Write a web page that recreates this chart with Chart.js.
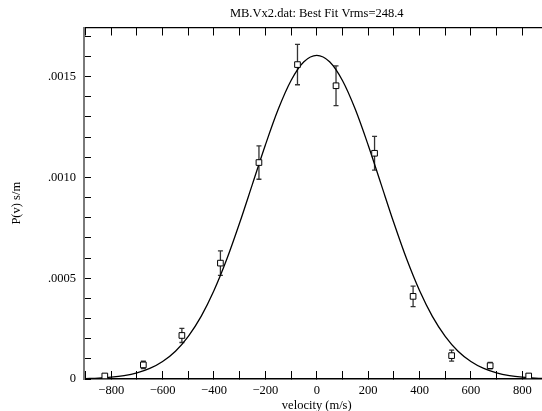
<!DOCTYPE html>
<html>
<head>
<meta charset="utf-8">
<script src="https://cdn.jsdelivr.net/npm/chart.js@4.4.0/dist/chart.umd.min.js"></script>
<style>
    html, body { margin: 0; padding: 0; overflow: hidden; background: #fff; }
    canvas { display: block; }
</style>
</head>
<body>
<canvas id="myChart01" width="560" height="411"></canvas>
<script>
// puntos medidos (centro de cada bin) y su barra de error
var velocidades = [-825, -675, -525, -375, -225, -75, 75, 225, 375, 525, 675, 825];
var probabilidades = [0.000015, 0.00007, 0.000216, 0.000575, 0.001074, 0.00156, 0.001455, 0.00112, 0.00041, 0.000116, 0.000066, 0.000015];
var errores = [0.000008, 0.000018, 0.000035, 0.000061, 0.000083, 0.0001, 0.0000985, 0.000084, 0.000051, 0.000027, 0.000016, 0.000008];

// curva de ajuste (Vrms=248.4), leida cada 50 m/s
var curvaX = [-900, -850, -800, -750, -700, -650, -600, -550, -500, -450, -400, -350, -300, -250, -200, -150, -100, -50,
    0, 50, 100, 150, 200, 250, 300, 350, 400, 450, 500, 550, 600, 650, 700, 750, 800, 850, 900];
var curvaY = [0.0000023, 0.0000046, 0.000009, 0.0000168, 0.0000303, 0.0000524, 0.0000869, 0.000138, 0.000212, 0.000311,
    0.000439, 0.000595, 0.000775, 0.000968, 0.001161, 0.001338, 0.001481, 0.001574,
    0.001606, 0.001574, 0.001481, 0.001338, 0.001161, 0.000968, 0.000775, 0.000595, 0.000439,
    0.000311, 0.000212, 0.000138, 0.0000869, 0.0000524, 0.0000303, 0.0000168, 0.000009, 0.0000046, 0.0000023];

// etiquetas de los ejes
var ticksX = [-800, -600, -400, -200, 0, 200, 400, 600, 800];
var etiquetasX = ['\u2212800', '\u2212600', '\u2212400', '\u2212200', '0', '200', '400', '600', '800'];
var ticksY = [0, 0.0005, 0.0010, 0.0015];
var etiquetasY = ['0', '.0005', '.0010', '.0015'];

function etiqueta(valor, lista, textos, tol) {
    for (var i = 0; i < lista.length; i++) {
        if (Math.abs(valor - lista[i]) < tol) return textos[i];
    }
    return '';
}

var barrasError = {
    id: 'barrasError',
    beforeDatasetsDraw: function (chart) {
        var ctx = chart.ctx;
        var sx = chart.scales.x;
        var sy = chart.scales.y;
        ctx.save();
        ctx.strokeStyle = '#333';
        ctx.lineWidth = 1.3;
        for (var i = 0; i < velocidades.length; i++) {
            var px = sx.getPixelForValue(velocidades[i]);
            var y1 = sy.getPixelForValue(probabilidades[i] + errores[i]);
            var y2 = sy.getPixelForValue(probabilidades[i] - errores[i]);
            ctx.beginPath();
            ctx.moveTo(px, y1);
            ctx.lineTo(px, y2);
            ctx.moveTo(px - 2.5, y1);
            ctx.lineTo(px + 2.5, y1);
            ctx.moveTo(px - 2.5, y2);
            ctx.lineTo(px + 2.5, y2);
            ctx.stroke();
        }
        ctx.restore();
    }
};

Chart.defaults.font.family = "'Liberation Serif', 'DejaVu Serif', serif";
Chart.defaults.font.size = 12.5;
Chart.defaults.color = '#000';

var puntos = velocidades.map(function (v, i) { return { x: v, y: probabilidades[i] }; });
var curva = curvaX.map(function (v, i) { return { x: v, y: curvaY[i] }; });

var ctx = document.getElementById('myChart01');

var myChart1 = new Chart(ctx, {
    type: 'scatter',
    data: {
        datasets: [{
            label: 'datos',
            data: puntos,
            pointStyle: 'rect',
            pointRadius: 4,
            pointBackgroundColor: '#fff',
            pointBorderColor: '#000',
            pointBorderWidth: 1
        }, {
            label: 'ajuste',
            data: curva,
            showLine: true,
            pointRadius: 0,
            borderColor: '#000',
            borderWidth: 1.3,
            cubicInterpolationMode: 'monotone'
        }]
    },
    options: {
        responsive: false,
        animation: false,
        layout: { padding: { left: 0, right: 8, top: 0, bottom: 0 } },
        plugins: {
            legend: { display: false },
            tooltip: { enabled: false },
            title: {
                display: true,
                text: 'MB.Vx2.dat: Best Fit Vrms=248.4',
                fullSize: false,
                color: '#000',
                font: { size: 12.5, weight: 'normal' },
                padding: { top: 6.5, bottom: 0 }
            }
        },
        scales: {
            x: {
                type: 'linear',
                position: 'bottom',
                min: -906,
                max: 906,
                afterFit: function (s) { s.height = 32; },
                border: { color: '#000', width: 1.5 },
                grid: { drawOnChartArea: false, tickLength: -8, color: '#000' },
                ticks: {
                    stepSize: 100,
                    includeBounds: false,
                    autoSkip: false,
                    maxRotation: 0,
                    maxTicksLimit: 100,
                    padding: 12,
                    callback: function (v) { return etiqueta(v, ticksX, etiquetasX, 0.001); }
                },
                title: {
                    display: true,
                    text: 'velocity (m/s)',
                    font: { size: 12.5, lineHeight: 0.8 },
                    padding: 0
                }
            },
            x2: {
                type: 'linear',
                position: 'top',
                min: -906,
                max: 906,
                afterFit: function (s) { s.height = 6; },
                border: { color: '#000', width: 1.3 },
                grid: { drawOnChartArea: false, tickLength: -8, color: '#000' },
                ticks: { display: false, stepSize: 100, includeBounds: false, maxTicksLimit: 100 }
            },
            y: {
                min: 0,
                max: 0.001744,
                afterFit: function (s) { s.width = 84; },
                border: { color: '#7a7a7a', width: 2 },
                grid: { drawOnChartArea: false, tickLength: -7, color: '#000' },
                ticks: {
                    stepSize: 0.0001,
                    includeBounds: false,
                    autoSkip: false,
                    maxTicksLimit: 100,
                    padding: 15,
                    callback: function (v) { return etiqueta(v, ticksY, etiquetasY, 1e-9); }
                },
                title: {
                    display: true,
                    text: 'P(v) s/m',
                    font: { size: 12.5 },
                    padding: { top: 9.5, bottom: 0 }
                }
            }
        }
    },
    plugins: [barrasError]
});
</script>
</body>
</html>
